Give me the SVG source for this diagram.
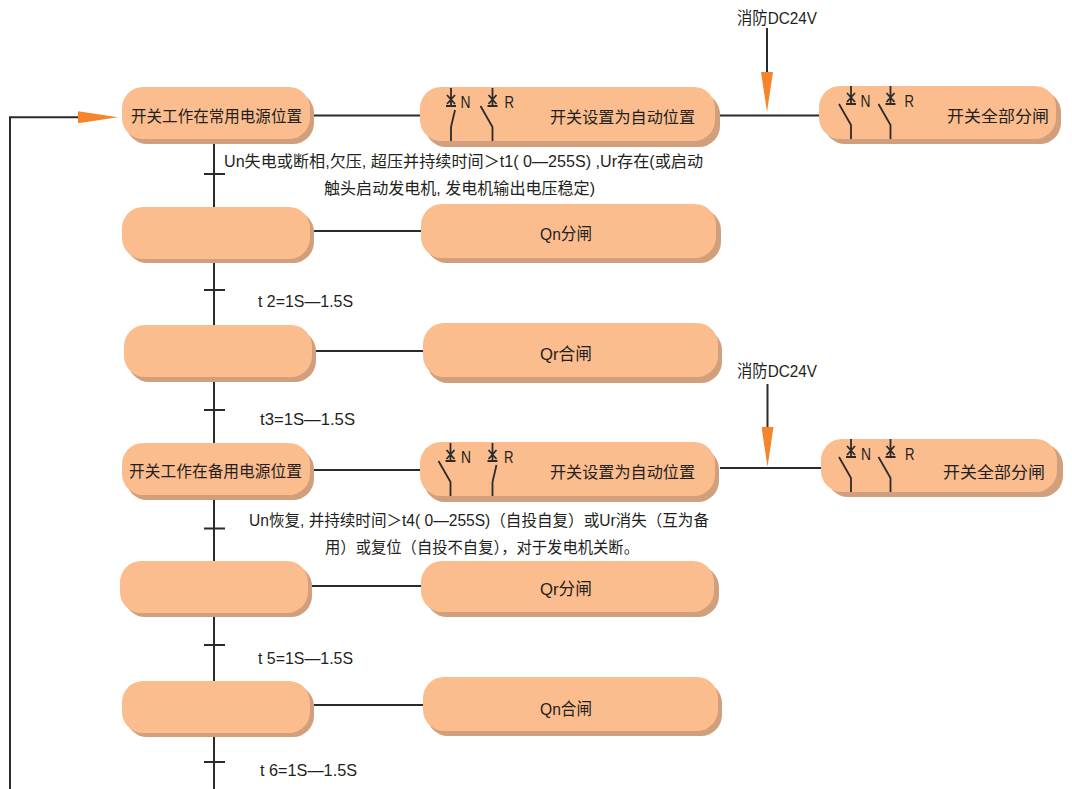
<svg xmlns="http://www.w3.org/2000/svg" width="1072" height="789" viewBox="0 0 1072 789">
<style>
text{font-family:"Liberation Sans","Noto Sans CJK SC",sans-serif;font-size:15px;fill:#231f20}
text.l{font-size:17px}
text.b{font-size:16px}
.m{fill:#fbbd8e}
.s{fill:#d19f7b}
.c{fill:none;stroke:#2b2b2b;stroke-width:2}
.w{fill:none;stroke:#2b2b2b;stroke-width:1.8}
</style>
<defs>
<marker id="arrow" markerUnits="userSpaceOnUse" markerWidth="41" markerHeight="12" refX="0" refY="6" orient="auto"><path d="M0,0L40,6L0,12Z" fill="#f5842b"/></marker>
<g id="top"><path class="w" d="M0,0V18M-4,7L4,16M4,7L-4,16M-5,18H5"/></g>
<g id="closed"><use href="#top"/><path class="w" d="M4,22L0,39V53"/></g>
<g id="open"><use href="#top"/><path class="w" d="M-12,18L0,39V53"/></g>
<rect id="nb" width="188" height="52" rx="21"/>
<rect id="rb" width="295" height="54" rx="21"/>
</defs>
<g id="connectors">
<path class="c" d="M214,140V789"/>
<path class="c" d="M204,174H225M204,290H225M204,410H225M204,528.500H225M204,645H225M204,762H225"/>
<path class="c" d="M314,115.500H420M720,115.500H819M314,231H421M316,351H423M314,470H420M720,468H822M312,586H421M314,705H423"/>
<path class="c" d="M10,789V117.300H78" marker-end="url(#arrow)"/>
<path class="c" d="M767,28V72" marker-end="url(#arrow)"/>
<path class="c" d="M767.500,384V427" marker-end="url(#arrow)"/>
</g>
<g id="n1"><use href="#nb" x="126" y="92" class="s"/><use href="#nb" x="122" y="87" class="m"/><text class="b" x="131" y="122" textLength="171" lengthAdjust="spacingAndGlyphs">开关工作在常用电源位置</text></g>
<g id="r1"><use href="#rb" x="425" y="93" class="s"/><use href="#rb" x="420" y="87" class="m"/><use href="#closed" x="451" y="88"/><use href="#open" x="492.500" y="88"/><text class="b" x="460.500" y="108" textLength="10" lengthAdjust="spacingAndGlyphs">N</text><text class="b" x="504.500" y="108" textLength="9.500" lengthAdjust="spacingAndGlyphs">R</text><text class="b" x="550" y="122.500" textLength="145" lengthAdjust="spacingAndGlyphs">开关设置为自动位置</text></g>
<g id="f1"><rect x="824" y="91" width="237" height="53" rx="21" class="s"/><rect x="819" y="86" width="237" height="53" rx="21" class="m"/><use href="#open" x="851" y="86"/><use href="#open" x="890.500" y="86"/><text class="b" x="860.500" y="107" textLength="10" lengthAdjust="spacingAndGlyphs">N</text><text class="b" x="904.500" y="107" textLength="9.500" lengthAdjust="spacingAndGlyphs">R</text><text class="b" x="947" y="121.500" textLength="102" lengthAdjust="spacingAndGlyphs">开关全部分闸</text></g>
<g id="n2"><use href="#nb" x="126" y="211" class="s"/><use href="#nb" x="122" y="207" class="m"/></g>
<g id="r2"><use href="#rb" x="426" y="209" class="s"/><use href="#rb" x="421" y="204" class="m"/><text class="l" x="540" y="240" textLength="52" lengthAdjust="spacingAndGlyphs">Qn分闸</text></g>
<g id="n3"><use href="#nb" x="128" y="330" class="s"/><use href="#nb" x="124" y="325" class="m"/></g>
<g id="r3"><use href="#rb" x="427" y="329" class="s"/><use href="#rb" x="423" y="323" class="m"/><text class="l" x="540" y="360" textLength="52" lengthAdjust="spacingAndGlyphs">Qr合闸</text></g>
<g id="n4"><use href="#nb" x="126" y="448" class="s"/><use href="#nb" x="122" y="443" class="m"/><text class="b" x="129" y="476.500" textLength="173" lengthAdjust="spacingAndGlyphs">开关工作在备用电源位置</text></g>
<g id="r4"><use href="#rb" x="424" y="448" class="s"/><use href="#rb" x="420" y="442" class="m"/><use href="#open" x="450.500" y="443"/><use href="#closed" x="492.500" y="443"/><text class="b" x="461" y="463" textLength="10" lengthAdjust="spacingAndGlyphs">N</text><text class="b" x="504" y="463" textLength="9.500" lengthAdjust="spacingAndGlyphs">R</text><text class="b" x="550" y="477.500" textLength="145" lengthAdjust="spacingAndGlyphs">开关设置为自动位置</text></g>
<g id="f4"><rect x="827" y="444" width="236" height="53" rx="21" class="s"/><rect x="821" y="439" width="236" height="53" rx="21" class="m"/><use href="#open" x="851" y="439"/><use href="#open" x="890.500" y="439"/><text class="b" x="861" y="460" textLength="10" lengthAdjust="spacingAndGlyphs">N</text><text class="b" x="905" y="460" textLength="9.500" lengthAdjust="spacingAndGlyphs">R</text><text class="b" x="943" y="477.500" textLength="102" lengthAdjust="spacingAndGlyphs">开关全部分闸</text></g>
<g id="n5"><use href="#nb" x="124" y="565" class="s"/><use href="#nb" x="120" y="561" class="m"/></g>
<g id="r5"><rect x="426" y="566" width="293" height="51" rx="21" class="s"/><rect x="421" y="561" width="293" height="51" rx="21" class="m"/><text class="l" x="540" y="595" textLength="52" lengthAdjust="spacingAndGlyphs">Qr分闸</text></g>
<g id="n6"><use href="#nb" x="126" y="685" class="s"/><use href="#nb" x="122" y="681" class="m"/></g>
<g id="r6"><use href="#rb" x="427" y="682" class="s"/><use href="#rb" x="423" y="677" class="m"/><text class="l" x="540" y="715" textLength="52" lengthAdjust="spacingAndGlyphs">Qn合闸</text></g>
<g id="labels">
<text class="l" x="737" y="24" textLength="80" lengthAdjust="spacingAndGlyphs">消防DC24V</text>
<text class="l" x="737" y="377" textLength="80" lengthAdjust="spacingAndGlyphs">消防DC24V</text>
<text class="b" x="224" y="166.500" textLength="479" lengthAdjust="spacingAndGlyphs">Un失电或断相,欠压, 超压并持续时间＞t1( 0—255S) ,Ur存在(或启动</text>
<text class="b" x="324" y="193.500" textLength="271" lengthAdjust="spacingAndGlyphs">触头启动发电机, 发电机输出电压稳定)</text>
<text class="b" x="249" y="525.500" textLength="460" lengthAdjust="spacingAndGlyphs">Un恢复, 并持续时间＞t4( 0—255S)（自投自复）或Ur消失（互为备</text>
<text class="b" x="325" y="552.500" textLength="314" lengthAdjust="spacingAndGlyphs">用）或复位（自投不自复），对于发电机关断。</text>
<text class="l" x="258" y="306.500" textLength="95" lengthAdjust="spacingAndGlyphs">t 2=1S—1.5S</text>
<text class="l" x="260" y="424.500" textLength="95" lengthAdjust="spacingAndGlyphs">t3=1S—1.5S</text>
<text class="l" x="258" y="663.500" textLength="95" lengthAdjust="spacingAndGlyphs">t 5=1S—1.5S</text>
<text class="l" x="260" y="775.500" textLength="97" lengthAdjust="spacingAndGlyphs">t 6=1S—1.5S</text>
</g>
</svg>
